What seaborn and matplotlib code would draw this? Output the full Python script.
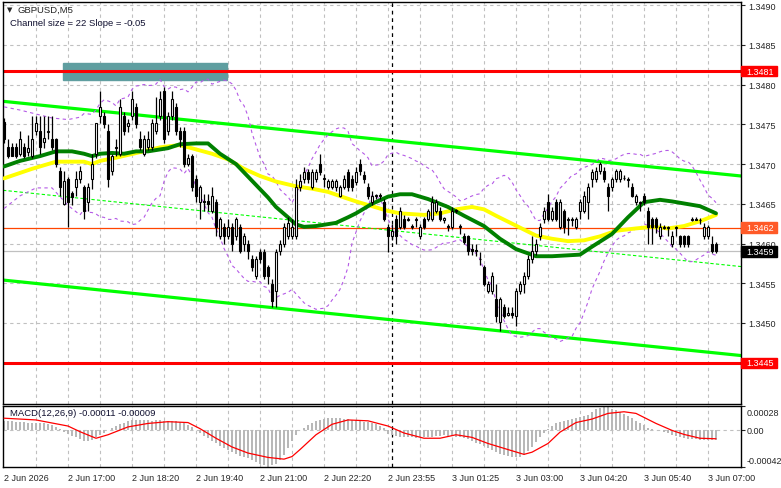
import matplotlib
matplotlib.use("Agg")
import matplotlib.pyplot as plt
import matplotlib.transforms as mtransforms
from matplotlib.patches import Rectangle
import numpy as np
import pandas as pd
import seaborn as sns

# ── Data (prices in pips above 1.3400, one entry per M5 bar) ─────────────

BASE = 1.34
PIP = 0.0001

opens = [
    75.3, 72.1, 72.1, 72.1, 71.3, 72.1, 71.5, 71.0, 74.2, 74.2,
    72.8, 74.0, 73.1, 73.1, 69.1, 65.0, 68.1, 66.3, 67.1, 68.1,
    67.1, 65.2, 68.1, 71.3, 76.0, 76.0, 74.2, 69.1, 72.0, 71.3,
    76.0, 74.8, 76.0, 77.2, 73.1, 71.3, 72.1, 72.1, 74.2, 76.0,
    79.2, 74.2, 76.0, 77.2, 74.2, 74.2, 70.0, 71.0, 68.1, 65.2,
    65.4, 65.4, 64.1, 65.2, 60.9, 62.1, 60.9, 62.1, 60.9, 62.1,
    59.9, 59.9, 58.1, 55.9, 58.9, 58.9, 57.0, 54.9, 54.0, 59.0,
    59.9, 61.0, 60.9, 60.9, 67.1, 68.1, 69.0, 67.1, 68.1, 70.0,
    68.3, 67.1, 67.1, 67.1, 66.0, 67.1, 69.0, 68.1, 67.8, 70.0,
    68.6, 67.1, 65.2, 66.0, 66.1, 65.2, 62.1, 61.0, 63.1, 62.1,
    63.1, 63.0, 62.2, 63.0, 60.9, 63.1, 63.1, 63.1, 64.1, 64.1,
    63.0, 62.2, 62.1, 64.2, 62.2, 60.9, 60.9, 59.3, 59.2, 58.1,
    57.0, 54.0, 54.0, 53.0, 50.1, 52.0, 51.0, 51.2, 50.9, 54.0,
    54.9, 55.9, 58.1, 59.0, 60.9, 63.1, 65.2, 63.1, 65.2, 62.1,
    64.1, 63.1, 63.0, 62.1, 64.1, 64.1, 65.2, 68.1, 68.1, 69.1,
    69.1, 67.1, 67.1, 68.1, 68.1, 68.3, 68.1, 67.1, 65.2, 65.2,
    66.0, 64.1, 63.1, 63.1, 61.0, 62.0, 62.1, 59.9, 62.0, 60.9,
    60.9, 60.9, 63.0, 63.1, 63.0, 60.9, 61.0, 59.9, 59.9,
]
highs = [
    75.8, 73.1, 72.6, 72.6, 74.2, 72.6, 73.6, 76.0, 76.0, 76.0,
    76.0, 76.0, 76.0, 73.3, 69.6, 69.1, 68.4, 66.6, 69.1, 69.8,
    67.4, 67.6, 71.3, 75.2, 79.2, 76.6, 75.0, 71.3, 73.1, 78.2,
    76.6, 75.7, 79.2, 77.7, 74.2, 73.6, 74.2, 75.7, 78.4, 79.2,
    79.7, 76.6, 79.2, 77.7, 74.7, 74.7, 71.3, 71.3, 68.6, 67.4,
    66.2, 66.2, 67.1, 65.6, 63.4, 62.6, 63.1, 62.6, 63.4, 62.4,
    61.3, 60.4, 58.6, 58.4, 59.3, 59.3, 57.3, 55.5, 59.3, 60.4,
    62.6, 63.4, 63.1, 68.1, 68.8, 69.6, 69.4, 69.4, 69.4, 71.3,
    68.8, 68.1, 68.1, 68.1, 67.4, 68.6, 69.4, 68.6, 69.6, 70.6,
    69.1, 67.6, 66.6, 66.2, 66.4, 65.6, 62.4, 62.4, 63.6, 64.6,
    63.6, 63.3, 62.4, 63.4, 62.4, 63.4, 64.4, 66.0, 65.6, 64.6,
    63.4, 62.4, 64.6, 64.4, 62.4, 61.3, 61.1, 59.9, 59.9, 58.9,
    57.3, 55.3, 56.4, 54.9, 53.3, 52.4, 52.0, 52.0, 54.4, 55.3,
    56.4, 58.6, 60.9, 60.6, 62.6, 64.6, 66.2, 64.6, 65.6, 65.6,
    64.4, 63.3, 63.3, 63.4, 65.6, 66.6, 67.6, 69.4, 69.6, 70.2,
    69.6, 67.6, 68.4, 69.4, 69.4, 68.6, 68.4, 67.6, 66.2, 65.4,
    66.4, 64.6, 63.4, 63.4, 62.6, 62.3, 62.2, 61.6, 62.2, 61.1,
    61.1, 61.1, 63.3, 63.3, 63.2, 62.6, 62.3, 60.9, 60.2,
]
lows = [
    72.6, 70.8, 71.0, 70.8, 71.0, 70.8, 71.0, 70.8, 73.6, 71.3,
    72.0, 73.1, 71.8, 69.6, 66.0, 64.8, 62.1, 64.8, 66.0, 67.6,
    63.1, 64.1, 66.8, 70.8, 75.2, 74.6, 67.1, 68.6, 71.0, 71.0,
    73.6, 74.0, 75.5, 74.6, 71.8, 71.0, 71.8, 71.8, 73.8, 75.5,
    72.6, 73.6, 75.5, 73.6, 72.1, 69.6, 69.8, 66.6, 65.2, 63.1,
    64.1, 64.1, 63.8, 60.9, 60.6, 59.9, 60.6, 59.0, 60.4, 58.8,
    59.0, 58.1, 56.5, 55.5, 57.5, 55.5, 54.9, 52.0, 52.0, 58.6,
    59.6, 60.6, 60.6, 60.6, 66.6, 67.6, 67.6, 66.8, 67.8, 68.6,
    67.1, 66.8, 66.8, 66.6, 65.8, 66.8, 66.6, 66.6, 67.4, 68.6,
    67.6, 65.6, 64.8, 65.6, 65.6, 62.8, 58.9, 60.4, 59.9, 61.8,
    61.8, 62.8, 61.8, 62.1, 60.6, 61.8, 62.8, 62.8, 63.8, 62.8,
    62.6, 61.6, 61.8, 63.8, 61.2, 59.9, 58.6, 58.6, 58.4, 57.3,
    54.6, 53.8, 53.6, 50.1, 49.0, 50.6, 50.9, 50.6, 49.6, 53.6,
    53.8, 55.5, 57.6, 58.6, 60.4, 62.6, 62.8, 62.8, 62.8, 61.8,
    61.3, 61.1, 62.2, 61.8, 63.1, 63.8, 63.1, 67.1, 67.8, 68.8,
    67.8, 64.1, 66.6, 67.8, 67.8, 68.0, 67.1, 65.8, 64.8, 64.1,
    64.8, 59.9, 59.9, 61.3, 60.6, 61.8, 61.0, 59.6, 60.9, 59.6,
    59.6, 59.6, 62.8, 62.9, 62.4, 60.6, 60.6, 58.8, 58.8,
]
closes = [
    73.1, 71.0, 71.0, 71.0, 73.1, 71.0, 72.0, 73.1, 75.2, 72.1,
    73.3, 74.2, 72.1, 70.0, 67.1, 67.9, 65.2, 65.8, 68.1, 69.1,
    64.1, 67.1, 70.0, 75.2, 77.2, 75.0, 68.1, 71.0, 72.2, 77.2,
    74.2, 75.2, 78.2, 75.0, 72.1, 73.1, 73.1, 75.2, 75.2, 78.2,
    73.1, 76.0, 78.2, 74.2, 73.1, 70.0, 70.8, 67.1, 66.0, 67.1,
    65.2, 65.0, 66.0, 62.1, 63.1, 60.9, 62.1, 59.9, 63.1, 59.0,
    60.9, 59.0, 57.0, 58.1, 58.1, 55.9, 55.9, 52.8, 58.9, 59.9,
    62.1, 62.6, 62.1, 67.1, 67.9, 69.0, 68.1, 69.0, 69.0, 69.0,
    68.1, 67.9, 67.9, 67.9, 67.1, 68.1, 67.1, 67.1, 69.0, 69.1,
    68.1, 66.0, 66.0, 66.1, 66.0, 63.1, 60.9, 61.6, 60.9, 64.1,
    62.1, 63.1, 62.1, 63.1, 62.1, 62.1, 64.1, 65.2, 65.2, 63.1,
    63.2, 62.1, 64.1, 64.1, 62.1, 60.2, 59.0, 59.1, 59.0, 58.0,
    54.9, 54.9, 55.9, 50.9, 53.0, 50.9, 51.2, 51.0, 54.0, 54.9,
    55.9, 58.1, 59.0, 59.9, 62.1, 64.1, 63.1, 64.1, 63.1, 65.2,
    62.1, 63.0, 63.1, 63.1, 65.2, 66.0, 67.1, 69.0, 69.1, 70.0,
    68.1, 66.0, 68.1, 69.1, 69.1, 68.2, 68.0, 66.0, 66.0, 65.1,
    65.2, 62.1, 62.1, 62.1, 62.1, 62.1, 62.0, 60.9, 62.1, 59.9,
    59.9, 59.9, 63.1, 63.0, 62.9, 62.1, 62.1, 59.0, 59.0,
]

# slow MA (yellow) and fast MA (dark green)
yellow_bar = [0, 7, 13, 20, 22, 24, 28, 34, 39, 44, 52, 56, 60, 64, 68, 73, 77, 81, 85, 88,
              92, 96, 99, 105, 109, 113, 117, 120, 123, 127, 133, 137, 141, 145, 149, 153,
              158, 162, 166, 170, 174, 178]
yellow_val = [68.2, 69.4, 70.3, 70.3, 70.0, 70.4, 70.8, 71.5, 72.1, 72.4, 71.3, 70.6, 69.4,
              68.5, 67.8, 67.2, 66.9, 66.5, 65.8, 65.3, 64.7, 64.1, 63.8, 63.6, 63.8, 64.3,
              64.6, 64.3, 63.5, 62.5, 61.0, 60.6, 60.3, 60.4, 60.9, 61.6, 61.9, 62.1, 61.9,
              62.2, 62.8, 63.6]
green_bar = [0, 4, 9, 13, 17, 20, 22, 24, 27, 30, 33, 36, 41, 44, 48, 51, 54, 58, 62, 66,
             68, 71, 73, 75, 78, 83, 86, 88, 92, 96, 99, 102, 106, 111, 115, 120, 124, 128,
             133, 137, 144, 147, 152, 156, 160, 164, 167, 174, 178]
green_val = [69.7, 70.4, 71.0, 71.6, 71.6, 71.3, 71.0, 71.3, 71.4, 71.3, 71.6, 71.6, 72.0,
             72.5, 72.6, 72.6, 71.3, 70.0, 67.9, 65.8, 64.6, 63.3, 62.4, 62.1, 62.2, 62.6,
             63.3, 63.8, 65.0, 65.9, 66.2, 66.2, 65.6, 64.6, 63.5, 62.2, 60.6, 59.3, 58.4,
             58.4, 58.6, 59.6, 61.2, 63.3, 65.2, 65.5, 65.3, 64.7, 63.8]

# bollinger bands at the left edge (before 20 bars are on the chart)
band_left_bar = [0, 4, 8, 12, 16, 19]
band_left_up = [77.2, 76.8, 76.3, 75.8, 75.6, 75.9]
band_left_lo = [64.4, 66.0, 67.0, 67.0, 64.8, 63.6]

# regression channel (bar, pips) at the two chart edges
chan_bar = [-0.25, 184.25]
chan_upper = [77.9, 68.5]
chan_mid = [66.7, 57.1]
chan_lower = [55.4, 45.9]

# MACD main (histogram) per bar and signal line, in 1e-5
macd_main = [
    11, 11, 11, 10, 10, 10, 9, 9, 9, 9,
    8, 7, 6, 4, 2, -2, -4, -6, -8, -10,
    -12, -12, -11, -8, -5, -3, 0, 3, 5, 7,
    9, 11, 12, 12, 12, 12, 12, 11, 12, 12,
    11, 11, 11, 11, 10, 8, 6, 4, 1, -3,
    -6, -9, -12, -15, -18, -20, -22, -25, -27, -29,
    -30, -32, -34, -36, -38, -40, -42, -40, -38, -34,
    -28, -20, -12, -5, 0, 3, 6, 9, 11, 12,
    13, 14, 14, 14, 14, 13, 13, 12, 12, 11,
    10, 10, 9, 7, 5, 3, -4, -5, -6, -7,
    -7, -8, -8, -9, -8, -8, -8, -7, -6, -6,
    -5, -6, -6, -7, -8, -9, -10, -12, -14, -16,
    -18, -20, -23, -25, -27, -28, -29, -30, -31, -31,
    -28, -24, -19, -13, -8, -3, 2, 5, 8, 10,
    11, 12, 13, 14, 15, 16, 18, 21, 24, 26,
    28, 27, 25, 23, 21, 19, 17, 14, 11, 8,
    6, 3, 2, 1, 0, -2, -3, -5, -6, -8,
    -9, -10, -10, -10, -11, -11, -11, -11, -11,
]
signal_bar = [0, 8, 16, 19, 23, 26, 31, 36, 41, 46, 49, 53, 57, 61, 66, 70, 72, 74, 78, 82,
              86, 91, 96, 100, 105, 109, 113, 117, 121, 126, 130, 132, 136, 139, 143, 147,
              151, 155, 158, 163, 167, 170, 174, 178]
signal_val = [14, 12, 5, -1.5, -9, -5, 4, 8, 10, 9, 2, -9, -19, -26, -31, -33, -30, -22, -5, 7,
              12, 11, 5, -3, -9, -9, -5, -8, -15, -22, -27.5, -25, -15, -2, 9, 13, 19.5, 21.4,
              19.5, 8, 0, -4.6, -9, -9.6]

levels = {"1.3481": (81.7, "#ff0000"), "1.3445": (45.0, "#ff0000")}
current_level = 62.0     # 1.3462 (orange)
bid_level = 59.0         # 1.3459 (grey)
zone_bars = (14.75, 55.75)
zone_pips = (80.6, 82.7)

label_bars = [0, 16, 32, 48, 64, 80, 96, 112, 128, 144, 160, 176]
label_text = ["2 Jun 2026", "2 Jun 17:00", "2 Jun 18:20", "2 Jun 19:40", "2 Jun 21:00",
              "2 Jun 22:20", "2 Jun 23:55", "3 Jun 01:25", "3 Jun 03:00", "3 Jun 04:20",
              "3 Jun 05:40", "3 Jun 07:00"]
day_break_bar = 97


def px(p):
    return BASE + np.asarray(p, dtype=float) * PIP


# ── Figure ─────────────────────────────────────────────────────────────────

sns.set_style("white")
plt.rcParams["font.family"] = ["Liberation Sans", "DejaVu Sans"]
plt.rcParams["font.size"] = 6.5

W, H = 781, 489
fig = plt.figure(figsize=(W / 100, H / 100), dpi=100)
ax = fig.add_axes([3 / W, 1 - 405 / H, 738 / W, 402 / H])
axm = fig.add_axes([3 / W, 1 - 468 / H, 738 / W, 61 / H], sharex=ax)

GRID = "#c0c0c0"
DASH = (0, (3, 3))
n = len(closes)
bars = np.arange(n)
o, h, l, c = px(opens), px(highs), px(lows), px(closes)

# grid
for b in range(8, 184, 8):
    ax.axvline(b, color=GRID, lw=0.8, ls=DASH, zorder=0)
    axm.axvline(b, color=GRID, lw=0.8, ls=DASH, zorder=0)
yt = np.round(np.arange(1.3445, 1.34901, 0.0005), 4)
for v in yt:
    ax.axhline(v, color=GRID, lw=0.8, ls=DASH, zorder=0)
axm.axhline(0, color=GRID, lw=0.8, ls=DASH, zorder=0)
for a in (ax, axm):
    a.axvline(day_break_bar, color="black", lw=0.9, ls=DASH, zorder=1)

# objects
ax.add_patch(Rectangle((zone_bars[0], px(zone_pips[0])), zone_bars[1] - zone_bars[0],
                       (zone_pips[1] - zone_pips[0]) * PIP, color="#5f9ea0", zorder=2))
for txt, (lv, col) in levels.items():
    ax.axhline(px(lv), color=col, lw=2.2, zorder=2)
ax.axhline(px(current_level), color="#ff4500", lw=0.9, zorder=2)
ax.axhline(px(bid_level), color="#c0c0c0", lw=0.9, zorder=2)

cb = np.array(chan_bar)
sns.lineplot(x=cb, y=px(chan_upper), ax=ax, color="#00ff00", lw=2.3, zorder=2)
sns.lineplot(x=cb, y=px(chan_lower), ax=ax, color="#00ff00", lw=2.3, zorder=2)
sns.lineplot(x=cb, y=px(chan_mid), ax=ax, color="#00ff00", lw=0.8, ls=(0, (3, 2)), zorder=2)

# bollinger bands (20, 2): computed once 20 bars exist, read values before that
cs = pd.Series(closes)
mid = cs.rolling(20).mean()
sd = cs.rolling(20).std(ddof=0)
BAND = "#b45ae6"
for left, band in ((band_left_up, mid + 2 * sd), (band_left_lo, mid - 2 * sd)):
    bx = np.concatenate([band_left_bar, bars[20:]])
    by = np.concatenate([left, band.values[20:]])
    ax.plot(bx, px(by), color=BAND, lw=0.8, ls=(0, (3, 3)), zorder=3)

# moving averages
sns.lineplot(x=yellow_bar, y=px(yellow_val), ax=ax, color="#ffff00", lw=2.8, zorder=4)
sns.lineplot(x=green_bar, y=px(green_val), ax=ax, color="#008000", lw=2.8, zorder=4)

# candles
up = c >= o
ax.vlines(bars, l, h, color="black", lw=0.9, zorder=5)
ax.bar(bars[up], (c - o)[up], bottom=o[up], width=0.6, color="white",
       edgecolor="black", lw=0.8, zorder=6)
ax.bar(bars[~up], (o - c)[~up], bottom=c[~up], width=0.6, color="black",
       edgecolor="black", lw=0.8, zorder=6)

ax.set_xlim(-0.25, 184.25)
ax.set_ylim(px(39.8), px(90.4))

# right price scale (1.3445 sits under its level box)
ax.yaxis.tick_right()
ax.set_yticks(yt)
ax.set_yticklabels(["" if abs(v - 1.3445) < 1e-6 else f"{v:.4f}" for v in yt])
ax.tick_params(axis="y", direction="out", length=3, width=0.8, pad=2, labelsize=6.5)
ax.tick_params(axis="x", length=0, labelbottom=False)
for s in ax.spines.values():
    s.set_color("black")
    s.set_linewidth(1)

trans = mtransforms.blended_transform_factory(ax.transAxes, ax.transData)
box_w, box_h = 36 / 738, 1.3 * PIP
for txt, lv, col in [("1.3481", levels["1.3481"][0], "#ff0000"),
                     ("1.3445", levels["1.3445"][0], "#ff0000"),
                     ("1.3462", current_level, "#ff5a28"),
                     ("1.3459", bid_level, "#000000")]:
    y = px(lv)
    ax.add_patch(Rectangle((1.0, y - box_h / 2), box_w, box_h, transform=trans,
                           color=col, clip_on=False, zorder=10))
    ax.text(1.0 + 5 / 738, y, txt, transform=trans, va="center", ha="left",
            color="white", fontsize=6.5, zorder=11, clip_on=False)

fig.text(7 / W, 1 - 10 / H, "\u25bc", fontsize=5, va="center", ha="left",
         family=["DejaVu Sans"])
fig.text(18 / W, 1 - 10.5 / H, "GBPUSD,M5", fontsize=6.8, va="center", ha="left")
fig.text(10 / W, 1 - 23.5 / H, "Channel size = 22 Slope = -0.05", fontsize=6.8,
         va="center", ha="left", color="#101030")

# ── MACD ───────────────────────────────────────────────────────────────────
mm = np.array(macd_main) * 1e-5
axm.bar(bars, mm, width=0.6, color="#b8b8b8", lw=0, zorder=2)
sns.lineplot(x=signal_bar, y=np.array(signal_val) * 1e-5, ax=axm, color="#ff0000",
             lw=0.9, zorder=3)
axm.set_ylim(-0.00042, 0.00028)
axm.yaxis.tick_right()
axm.set_yticks([-0.00042, 0, 0.00028])
axm.set_yticklabels(["", "", ""])
axm.tick_params(axis="y", direction="out", length=3, width=0.8)
tm = mtransforms.blended_transform_factory(axm.transAxes, axm.transData)
for val, txt, dy in [(0.00028, "0.00028", -5), (0, "0.00", 0), (-0.00042, "-0.00042", 4.5)]:
    axm.annotate(txt, xy=(1, val), xycoords=tm, xytext=(4, dy), textcoords="offset points",
                 va="center", ha="left", fontsize=6.5, annotation_clip=False)
axm.text(7 / 738, 0.9, "MACD(12,26,9) -0.00011 -0.00009", transform=axm.transAxes,
         va="center", ha="left", fontsize=6.8, color="#101030")
axm.set_xticks(label_bars)
axm.set_xticklabels(label_text, ha="left")
axm.tick_params(axis="x", direction="out", length=3, width=0.8, pad=1.5, labelsize=6.5)
for s in axm.spines.values():
    s.set_color("black")
    s.set_linewidth(1)
axm.set_xlabel("")
axm.set_ylabel("")
ax.set_xlabel("")
ax.set_ylabel("")

fig.savefig("out.png", dpi=100, facecolor="white")
